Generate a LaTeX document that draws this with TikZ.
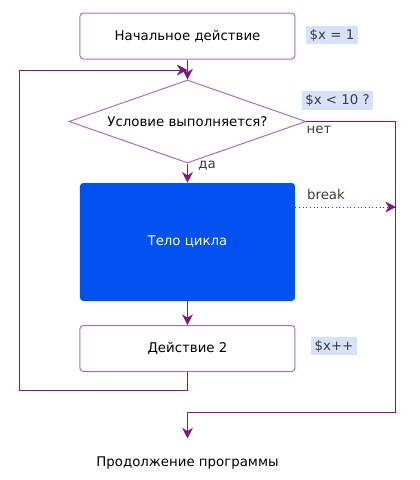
\documentclass[tikz,border=0pt]{standalone}
\usepackage{fontspec}
\setmainfont{DejaVu Sans}
\usetikzlibrary{arrows.meta,shapes.geometric}
\definecolor{linec}{RGB}{128,20,128}
\definecolor{boxb}{RGB}{170,110,185}
\definecolor{bodyc}{RGB}{0,82,240}
\definecolor{tagbg}{RGB}{214,225,250}
\definecolor{tagtx}{RGB}{60,60,60}
\tikzset{
  px/.style={x=0.75pt,y=-0.75pt},
  stepbox/.style={draw=boxb,line width=0.75pt,rounded corners=2.5pt,fill=white,minimum width=161.25pt,minimum height=34.5pt,inner sep=0pt,font=\fontsize{10}{12}\selectfont},
  bodybox/.style={fill=bodyc,rounded corners=2.5pt,minimum width=161.25pt,minimum height=88.5pt,inner sep=0pt,text=white,font=\fontsize{10}{12}\selectfont},
  condbox/.style={diamond,draw=boxb,line width=0.75pt,minimum width=177.75pt,minimum height=62.25pt,inner sep=0pt},
  tag/.style={fill=tagbg,text=tagtx,inner sep=2.5pt,font=\fontsize{10}{12}\selectfont},
  lbl/.style={text=tagtx,inner sep=0pt,font=\fontsize{10}{12}\selectfont},
  conn/.style={draw=linec,line width=0.75pt,-{Stealth[length=8pt,width=8pt,inset=2.5pt]}},
}
\begin{document}
\begin{tikzpicture}[px]
\useasboundingbox (0,0) rectangle (420,480);
\node[stepbox] (start) at (187.5,36) {Начальное действие};
\node[condbox] (cond) at (187.5,121.5) {};
\node[font=\fontsize{10}{12}\selectfont] (condt) at (cond) {Условие выполняется?};
\node[bodybox] (body) at (187.5,242) {Тело цикла};
\node[stepbox] (act2) at (187.5,348.5) {Действие 2};
\node[font=\fontsize{10}{12}\selectfont,inner sep=0pt] (end) at (187.5,463) {Продолжение программы};

\node[tag] (t1) at (332,35) {\$x = 1};
\node[tag] (t2) at (337.5,100.5) {\$x < 10 ?};
\node[tag] (t3) at (334,346) {\$x++};

\node[lbl] (yes) at (207,166) {да};
\node[lbl] (no) at (319,130) {нет};
\node[lbl] (brl) at (326,195) {break};

\coordinate (loopin) at (187.5,70);
\coordinate (lb) at (20,390);
\coordinate (lt) at (20,70);
\coordinate (nt) at (396,121.5);
\coordinate (nb) at (396,412);
\coordinate (brk) at (396,207);

\draw[conn] (start.south) -- (cond.north);
\draw[conn] (act2.south) |- (lb) -- (lt) -- (loopin);
\draw[conn] (cond.south) -- (body.north);
\draw[conn] (body.south) -- (act2.north);
\draw[conn,shorten >=13.5pt] (cond.east) -- (nt) -- (nb) -| (end.north);
\draw[conn,dotted] (body.east |- brk) -- (brk);
\end{tikzpicture}
\end{document}
